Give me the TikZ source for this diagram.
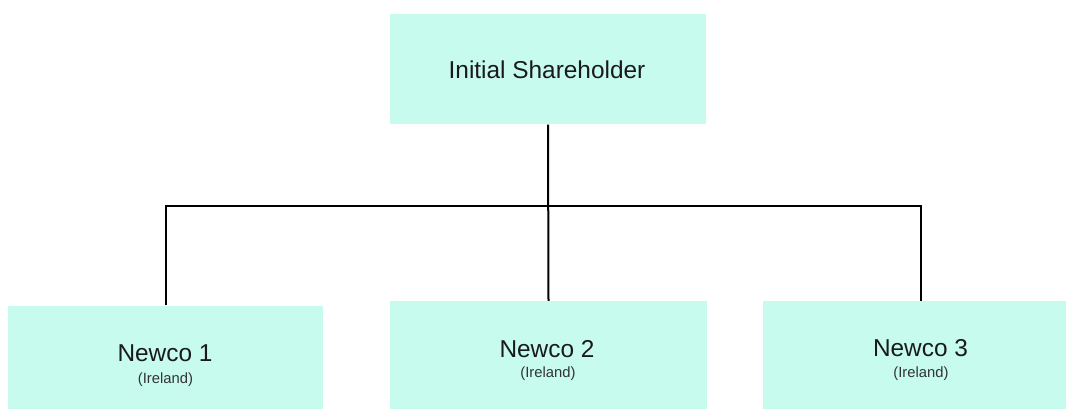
\documentclass[tikz,border=0pt]{standalone}
\usepackage{fontspec}
\setmainfont{Liberation Sans}
\definecolor{boxfill}{HTML}{C6FBEE}
\definecolor{txt}{HTML}{1A1A1A}
\definecolor{subtxt}{HTML}{333333}
\begin{document}
\begin{tikzpicture}[x=1pt,y=-1pt,
  orgbox/.style={draw=none,fill=boxfill,rectangle,inner sep=0pt,minimum width=316pt},
  maintext/.style={anchor=base,inner sep=0pt,text=txt,font=\fontsize{24.4pt}{28pt}\selectfont},
  subtext/.style={anchor=base,inner sep=0pt,text=subtxt,font=\fontsize{14.8pt}{17pt}\selectfont},
  conn/.style={draw=black,line width=2pt}]
\useasboundingbox (0,0) rectangle (1066,409);
\clip (0,0) rectangle (1066,409);
\node[orgbox,minimum height=110.5pt] (top) at (548,69.25) {};
\node[orgbox,minimum width=315pt,minimum height=110pt] (n1) at (165.5,360.5) {};
\node[orgbox,minimum width=317pt,minimum height=114pt] (n2) at (548.5,358) {};
\node[orgbox,minimum height=114pt] (n3) at (921,358) {};
\node[maintext] (ttop) at (547,79) {Initial Shareholder};
\node[maintext] (t1) at (165,361) {Newco 1};
\node[subtext] (s1) at (165.5,383) {(Ireland)};
\node[maintext] (t2) at (547,357) {Newco 2};
\node[subtext] (s2) at (548,377) {(Ireland)};
\node[maintext] (t3) at (920.5,356.5) {Newco 3};
\node[subtext] (s3) at (921,377) {(Ireland)};
\coordinate (bus) at (548,206);
\draw[conn] (top.south) -- (n2.north);
\draw[conn] (n1.north) -- (n1.north |- bus) -- (n3.north |- bus) -- (n3.north);
\end{tikzpicture}
\end{document}
